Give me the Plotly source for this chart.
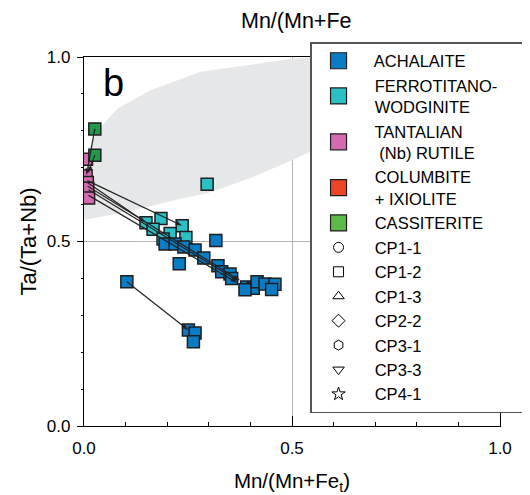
import plotly.graph_objects as go

# ---------------- data ----------------
achalaite_x = [0.195, 0.219, 0.240, 0.267, 0.288, 0.317, 0.229, 0.322, 0.331, 0.351, 0.355,
               0.391, 0.407, 0.387, 0.416, 0.435, 0.459, 0.451, 0.103, 0.251, 0.267, 0.263]
achalaite_y = [0.493, 0.493, 0.485, 0.477, 0.455, 0.503, 0.440, 0.434, 0.418, 0.412, 0.400,
               0.377, 0.373, 0.369, 0.391, 0.385, 0.384, 0.370, 0.391, 0.260, 0.252, 0.228]

ferro_x = [0.149, 0.185, 0.236, 0.166, 0.207, 0.190, 0.245, 0.296]
ferro_y = [0.551, 0.562, 0.543, 0.533, 0.522, 0.507, 0.511, 0.655]

rutile_x = [0.006, 0.005, 0.008, 0.009, 0.011]
rutile_y = [0.723, 0.678, 0.660, 0.644, 0.618]

cassiterite_x = [0.026, 0.026]
cassiterite_y = [0.805, 0.734]

# tie lines (start -> end, arrow at end)
tie_x0 = [0.026, 0.026, 0.008, 0.008, 0.009, 0.011, 0.011, 0.103]
tie_y0 = [0.805, 0.734, 0.665, 0.660, 0.650, 0.640, 0.625, 0.391]
tie_x1 = [0.006, 0.010, 0.236, 0.149, 0.375, 0.372, 0.368, 0.251]
tie_y1 = [0.680, 0.685, 0.543, 0.551, 0.395, 0.392, 0.388, 0.260]

# grey compositional field outline
field_x = [0.0, 0.010, 0.022, 0.04, 0.08, 0.16, 0.28, 0.40, 0.50, 0.56, 0.62,
           0.62, 0.553, 0.50, 0.40, 0.296, 0.24, 0.12, 0.0]
field_y = [0.700, 0.745, 0.775, 0.81, 0.86, 0.91, 0.96, 0.98, 0.995, 1.0, 1.0,
           0.78, 0.748, 0.720, 0.672, 0.631, 0.618, 0.585, 0.558]

mineral_names = ["ACHALAITE", "FERROTITANO-<br>WODGINITE", "TANTALIAN<br> (Nb) RUTILE",
                 "COLUMBITE<br>+ IXIOLITE", "CASSITERITE"]
mineral_colors = ["#0a7cc6", "#2bbfc6", "#d46bb0", "#ee4526", "#5bb947"]
plot_green = "#1f9b4a"

sample_names = ["CP1-1", "CP1-2", "CP1-3", "CP2-2", "CP3-1", "CP3-3", "CP4-1"]
sample_symbols = ["circle-open", "square-open", "triangle-up-open", "diamond-open",
                  "hexagon-open", "triangle-down-open", "star-open"]

FONT = "Arial, Liberation Sans, sans-serif"
EDGE = "#1e1e1e"
PAD = "  "

fig = go.Figure()

# grey field
fig.add_trace(go.Scatter(x=field_x, y=field_y, fill="toself", mode="lines",
                         line=dict(width=0), fillcolor="#e6e7e8",
                         showlegend=False, hoverinfo="skip"))

# data markers
def add_points(xs, ys, color):
    fig.add_trace(go.Scatter(x=xs, y=ys, mode="markers", showlegend=False,
                             marker=dict(symbol="square", size=12, color=color,
                                         line=dict(color=EDGE, width=1.5))))

add_points(ferro_x, ferro_y, mineral_colors[1])
add_points(achalaite_x, achalaite_y, mineral_colors[0])
add_points(rutile_x, rutile_y, mineral_colors[2])
add_points(cassiterite_x, cassiterite_y, plot_green)

# tie lines with arrowheads
for x0, y0, x1, y1 in zip(tie_x0, tie_y0, tie_x1, tie_y1):
    fig.add_trace(go.Scatter(x=[x0, x1], y=[y0, y1], mode="lines+markers",
                             showlegend=False, hoverinfo="skip",
                             line=dict(color="#222222", width=1.2),
                             marker=dict(symbol="arrow", angleref="previous",
                                         size=[0, 7], color="#222222", opacity=1,
                                         line=dict(width=0))))

# legend-only entries
for name, col in zip(mineral_names, mineral_colors):
    label = "<br>".join(PAD + part for part in name.split("<br>"))
    if name.startswith("FERRO"):
        label = label.replace("-<br>", "-     <br>")
    fig.add_trace(go.Scatter(x=[None], y=[None], mode="markers", name=label,
                             marker=dict(symbol="square", size=16, color=col,
                                         line=dict(color=EDGE, width=1.2))))
for name, sym in zip(sample_names, sample_symbols):
    fig.add_trace(go.Scatter(x=[None], y=[None], mode="markers", name=PAD + name,
                             marker=dict(symbol=sym, size=10, color="black",
                                         line=dict(color="black", width=1))))

fig.update_layout(
    width=540, height=487,
    margin=dict(l=76, r=48, t=49, b=69),
    paper_bgcolor="white", plot_bgcolor="white",
    font=dict(family=FONT, color="black", size=16),
    showlegend=True,
    legend=dict(x=1.065, y=1.0406, xanchor="right", yanchor="top",
                bgcolor="white", bordercolor="#555555", borderwidth=1.5,
                font=dict(size=16.5, family=FONT), itemwidth=44,
                itemsizing="trace", maxheight=460),
    xaxis=dict(range=[0, 1], tickvals=[0, 0.5, 1.0], ticktext=["0.0", "0.5", "1.0"],
               ticks="inside", ticklen=10, tickcolor="black", ticklabelstandoff=6,
               minor=dict(dtick=0.1, ticks="inside", ticklen=4, tickcolor="black"),
               showline=True, linecolor="black", linewidth=1.2, mirror=True,
               showgrid=True, gridcolor="#b5b5b5", gridwidth=1, zeroline=False,
               tickfont=dict(size=17), automargin=False,
               title=dict(text="Mn/(Mn+Fe<sub>t</sub>)", font=dict(size=20.5), standoff=21)),
    yaxis=dict(range=[0, 1], tickvals=[0, 0.5, 1.0], ticktext=["0.0", "0.5", "1.0"],
               ticks="outside", ticklen=6, tickcolor="black", ticklabelstandoff=3,
               minor=dict(dtick=0.1, ticks="outside", ticklen=2, tickcolor="black"),
               showline=True, linecolor="black", linewidth=1.2, mirror=True,
               showgrid=True, gridcolor="#b5b5b5", gridwidth=1, zeroline=False,
               tickfont=dict(size=17), automargin=False,
               title=dict(text="Ta/(Ta+Nb)", font=dict(size=22), standoff=4)),
    annotations=[
        dict(text="b", x=0.04, y=0.93, xref="paper", yref="paper", showarrow=False,
             xanchor="left", yanchor="middle", font=dict(size=38, family=FONT)),
        dict(text="Mn/(Mn+Fe", x=0.51, y=1.0, xref="paper", yref="paper",
             yshift=36, showarrow=False, xanchor="center", yanchor="middle",
             font=dict(size=21.5, family=FONT)),
    ],
)

fig.write_html("out.html")
